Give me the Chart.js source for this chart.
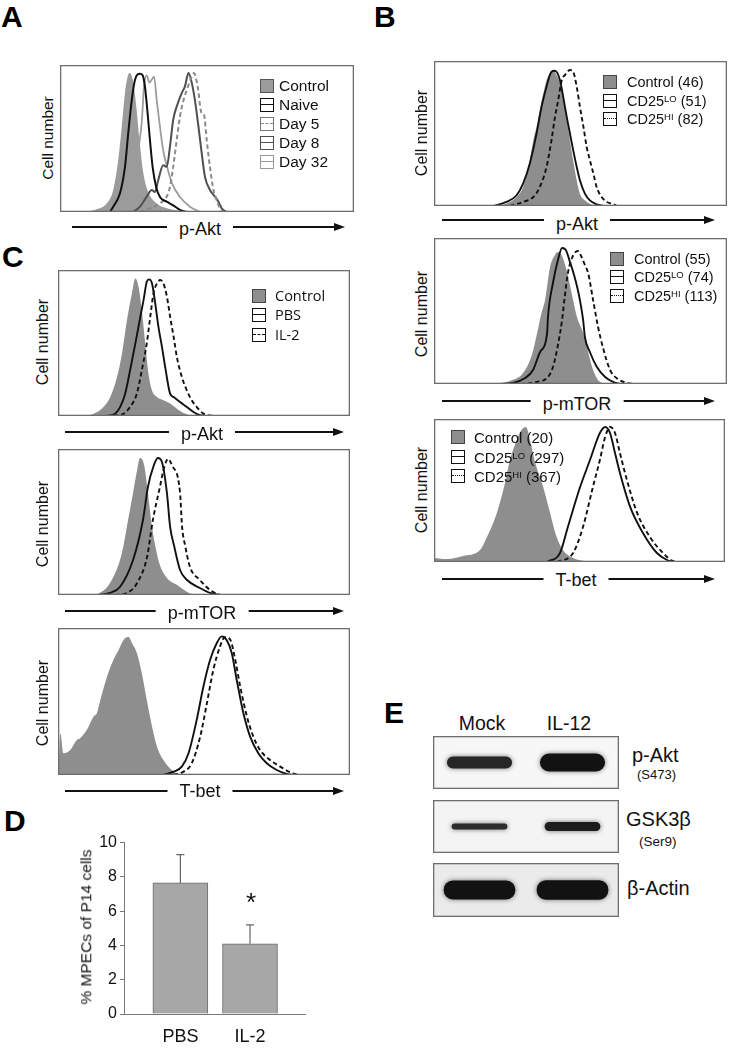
<!DOCTYPE html>
<html><head><meta charset="utf-8">
<script src="https://cdn.jsdelivr.net/npm/chart.js@4.4.1/dist/chart.umd.min.js"></script>
<style>
body{margin:0;background:#fff;font-family:"Liberation Sans",Arial,sans-serif;color:#111}
#root{position:relative;width:731px;height:1050px;overflow:hidden;background:#fff}
.t{position:absolute;white-space:nowrap;line-height:1;color:#111}
.letter{position:absolute;font-weight:bold;font-size:30px;line-height:1;white-space:nowrap;color:#000}
.ylab{position:absolute;transform:translate(-50%,-50%) rotate(-90deg);white-space:nowrap;font-size:16px;line-height:1;color:#111}
.sup{font-size:9.5px;vertical-align:4px}
</style></head>
<body><div id="root"></div>
<script>
// ---------------- DATA ----------------
// Panel A (p-Akt), x = position across plot (0-100), y = relative cell number (0-100)
const A_control = [[7.9,0],[12.5,1.8],[15.9,5.9],[18.1,15],[19.8,35],[21,58],[22.1,81],[23.6,94.5],[24.7,90.5],[25.9,72.7],[27,50],[28.3,27],[30,13.6],[32.3,6.8],[36.3,2.5],[43.1,0.5],[47.6,0]];
const A_naive = [[17,0],[18.1,3.6],[20.4,12.7],[22.1,30.7],[23.2,53.4],[24.4,76],[25.5,89.8],[27.2,94],[28.1,93],[28.9,85.2],[29.7,69.3],[30.6,48.9],[31.5,30.7],[32.7,17],[34,10.2],[36.3,7],[38.5,4.5],[40.8,1.4],[43.1,0]];
const A_day5 = [[27.2,0],[30.6,2.5],[34,5.9],[36.3,10.5],[37.4,17],[38.5,30.7],[39.7,48.9],[40.8,64.8],[42,76],[43.1,83],[44.8,92],[45.6,94.5],[46.3,90.5],[47.1,81.8],[47.6,72.7],[48.2,67],[49,66],[49.9,49],[51,30.7],[52.2,15],[53.3,8],[54.4,2.5],[55.6,0]];
const A_day8 = [[24.9,0],[27.2,3.6],[29.5,10.5],[31.2,15],[32.3,13.6],[33.4,21.6],[35.1,31.8],[36.3,30.7],[37.4,44.5],[38.5,62.7],[39.7,71.8],[41.4,80.9],[42.5,85.5],[43.7,94.5],[44.8,88],[45.9,76],[47.1,58],[48.2,40],[49.3,24],[51,15],[52.7,10.5],[53.9,7],[55,2.5],[56.7,0]];
const A_day32 = [[20.4,0],[23.8,4],[25.5,18],[26.6,41],[27.8,61],[28.6,86],[29.5,93],[30.4,88],[31.2,90],[32,92],[32.9,76],[34,58],[35.1,42],[36.3,31.8],[38,20],[40.8,10.2],[44.2,3.6],[47.6,0]];

// Panel B
const B1_control = [[19,0],[24.7,1.6],[28.2,6.2],[30.4,13.1],[32.7,31.6],[33.9,45.4],[35,54.6],[36.1,66.1],[37.3,77.6],[38.4,86.8],[39.6,91.5],[40.7,93.8],[41.8,90.3],[43,84.6],[44.1,75.1],[45.3,59],[46.4,45.2],[47.5,31.3],[48.7,17.7],[49.8,8.5],[51.5,3.9],[54.4,0.5],[56.7,0]];
const B1_lo = [[20.2,0],[24.7,2.8],[28.2,7.4],[30.4,15.4],[32.7,29.3],[35,50],[36.7,68.4],[38.4,82.3],[40.1,92.6],[41.3,93.3],[43,86.8],[44.1,75.3],[45.3,61.5],[46.4,50],[47.5,38.5],[48.7,27],[49.8,17.7],[51.5,8.5],[53.2,3.9],[55.5,1.2],[57.8,0]];
const B1_hi = [[25.9,0],[30.4,2.8],[33.9,6.2],[36.1,13.1],[38.4,26.9],[40.1,45.4],[41.3,61.5],[42.4,73],[43.6,86.8],[44.7,90.3],[46.4,93.8],[47.5,92.6],[48.7,82.3],[49.8,68.4],[51,54.6],[52.1,40.8],[53.2,31.6],[54.4,22.4],[55.5,13.1],[57.2,6.2],[59,2.8],[61.2,1.2],[62.4,0]];
const B2_control = [[20.8,0],[25.9,2.1],[30.4,7.5],[33.4,19.9],[35.2,34.9],[36.5,47.3],[37.9,57.5],[39.6,80.1],[41.3,88.4],[42.3,90.4],[43.7,87.7],[45.4,76.7],[47.1,61],[48.8,45.9],[50.9,34.9],[52.6,21.9],[54.3,9.6],[56.7,1.4],[60.1,0]];
const B2_lo = [[22.5,0],[27,0.7],[31.1,4.1],[33.8,9.6],[36.2,21.9],[38.6,34.9],[38.9,45.9],[40.6,69.2],[42.3,84.9],[43.7,93.2],[45,91.8],[46.4,83.6],[47.8,74.7],[49.1,64.4],[49.8,57.5],[50.9,43.8],[51.5,32.2],[53.2,21.9],[55.6,11.6],[58.4,4.8],[61.1,1.4],[63.5,0]];
const B2_hi = [[29.4,0],[35.2,1.4],[38.9,4.8],[40.6,11.6],[42.3,26.7],[43.7,43.8],[44.7,61],[45.7,76],[47.1,86.3],[49.1,91.1],[50.5,86.3],[51.5,81.5],[52.6,76],[54.3,57.5],[56,39],[57.7,24.7],[60.1,9.6],[62.8,3.4],[65.9,0.7],[68.6,0]];
const B3_control = [[0,2.8],[4.5,2.1],[10,4.2],[15.8,8.4],[18.2,17.5],[21.6,34.3],[24.4,55.2],[26.1,71.3],[27.8,81.8],[29.6,90.9],[31.6,94.4],[33,85.3],[34.7,69.9],[37.1,55.2],[39.9,34.3],[41.9,18.9],[44.3,8.4],[47.8,2.8],[53.6,0]];
const B3_lo = [[38.8,0],[43.3,6.3],[46,24.5],[50.2,52.4],[53.6,71.3],[56,85.3],[57,90.2],[58.8,94.4],[60.5,90.2],[62.2,76.2],[63.9,62.2],[67.4,38.5],[71.8,20.3],[76.6,6.3],[80.1,1.4],[82.1,0]];
const B3_hi = [[42.3,0],[47.8,6.3],[51.2,24.5],[54.6,52.4],[57,71.3],[58.8,87.4],[60.5,94.4],[62.2,90.2],[63.9,76.2],[66.3,57.3],[69.8,34.3],[74.2,17.5],[78.7,6.3],[82.1,0.7],[84.5,0]];

// Panel C
const C1_control = [[8.8,0],[12.2,1.6],[15.6,6.2],[17.9,13],[20.2,26.5],[21.9,42.6],[23.6,65.4],[25.3,83.7],[26.5,94.1],[27.6,88.3],[28.7,72.3],[29.9,49.4],[31,28.8],[32.2,17.4],[33.9,13],[36.1,10.8],[38.4,8.5],[40.7,5],[43,2.1],[46.4,0]];
const C1_pbs = [[16.8,0],[19.6,1.6],[21.3,6.2],[23,15.3],[24.7,31.4],[26.5,49.7],[28.2,68],[29.3,79.4],[30.4,92],[31.2,93.6],[32.2,90.8],[33.3,77.1],[34.4,61],[35.6,47.4],[36.7,33.6],[38.4,15.3],[39.6,13],[41.8,9.6],[44.1,6.2],[46.4,2.7],[48.7,0.5],[50.9,0]];
const C1_il2 = [[19,0],[22.5,1.6],[24.7,6.2],[27,15.3],[28.7,31.4],[30.4,49.7],[31.6,68],[32.7,84],[33.9,90.8],[35,93.1],[36.1,90.8],[37.3,81.7],[38.4,68],[39.6,54.2],[40.7,40.5],[42.4,26.8],[44.1,17.6],[45.8,10.8],[47.5,6.2],[49.8,1.6],[53.2,0]];
const C2_control = [[11,0],[13.4,0.7],[17.8,8.2],[21.9,28.8],[24,51.4],[25.7,69.9],[27.1,85.6],[28.1,93.8],[29.5,89],[30.8,69.9],[32.2,46.6],[33.6,30.8],[34.9,20.5],[37.3,11.6],[40.8,6.8],[44.2,2.1],[46.9,0]];
const C2_pbs = [[14.4,0],[17.8,1.4],[21.2,5.5],[25.7,24],[29.1,51.4],[30.8,74],[32.5,87],[34.2,93.8],[35.6,91.1],[37.3,69.9],[38.4,46.6],[39.7,34.2],[41.8,17.1],[44.2,10.3],[48.6,4.8],[52.1,1.4],[55.5,0]];
const C2_il2 = [[19.5,0],[23.6,1.4],[27.1,8.2],[30.5,26],[32.5,51.4],[34.9,74],[36.3,87],[37.7,93.2],[39,89],[41.8,69.9],[42.5,46.6],[43.5,34.2],[45.2,19.2],[48.6,10.3],[52.1,3.4],[55.5,0]];
const C3_control = [[0.2,0],[0.8,28.4],[1.9,14.8],[4.2,17],[6.5,23.9],[7.6,25],[9.9,30.7],[12.2,39.8],[13.3,42],[14.5,51.1],[16.8,67],[19,78.4],[20.8,85.2],[22.5,92],[24.2,93.8],[25.3,89.8],[27,83],[28.7,69.3],[30.4,51.1],[32.2,33],[33.9,19.3],[36.1,10.2],[38.4,4.5],[40.7,1.1],[44.1,0]];
const C3_pbs = [[36.1,0],[39.6,2.3],[42.4,5.7],[44.7,14.8],[47.5,37.5],[49.8,60.2],[52.1,78.4],[54.4,89.8],[56.1,94.3],[57.8,91.6],[59.5,83],[61.2,64.8],[63.5,42],[65.8,26.1],[68.6,14.8],[71.5,8],[74.9,3.4],[78.3,0.7],[80.6,0]];
const C3_il2 = [[39.6,0],[43,2.3],[45.8,8],[48.7,26.1],[51,48.9],[53.2,71.6],[55.5,87.5],[57.2,93.8],[59,92],[60.7,78.4],[62.4,60.2],[64.7,39.8],[66.9,26.1],[69.2,17],[72.6,10.2],[76.1,5.7],[79.5,1.8],[82.3,0]];

// Panel D
const dCategories = ['PBS', 'IL-2'];
const dMeans = [7.65, 4.1];
const dErrors = [1.65, 1.1];
const dTicks = [0, 2, 4, 6, 8, 10];

// Panel E (relative band signal)
const blotLanes = ['Mock', 'IL-12'];
const pAktSignal = [0.45, 0.68];
const gskSignal = [0.23, 0.34];
const actinSignal = [0.70, 0.72];

// ---------------- DRAWING ----------------
Chart.defaults.font.family = '"Liberation Sans", Arial, sans-serif';
Chart.defaults.color = '#111';
const root = document.getElementById('root');

function mkCanvas(left, top, w, h) {
  const c = document.createElement('canvas');
  c.width = w; c.height = h;
  c.style.cssText = `position:absolute;left:${left}px;top:${top}px;width:${w}px;height:${h}px`;
  root.appendChild(c);
  return c;
}
function text(x, baseline, html, fs, opts = {}) {
  const s = document.createElement('div');
  s.className = 't';
  s.innerHTML = html;
  s.style.fontSize = fs + 'px';
  s.style.top = (baseline - 0.8465 * fs) + 'px';
  s.style.left = x + 'px';
  if (opts.center) s.style.transform = 'translateX(-50%)';
  if (opts.family) s.style.fontFamily = opts.family;
  if (opts.bold) s.style.fontWeight = 'bold';
  if (opts.bg) { s.style.background = opts.bg; s.style.padding = '0 12px'; }
  root.appendChild(s);
  return s;
}
function ylab(cx, cy, str, fs) {
  const d = document.createElement('div');
  d.className = 'ylab';
  d.textContent = str;
  d.style.left = cx + 'px'; d.style.top = cy + 'px';
  if (fs) d.style.fontSize = fs + 'px';
  root.appendChild(d);
}
function letter(x, baseline, ch) {
  const d = document.createElement('div');
  d.className = 'letter';
  d.textContent = ch;
  d.style.left = x + 'px';
  d.style.top = (baseline - 0.8465 * 30) + 'px';
  root.appendChild(d);
}
function arrow(x1, x2, y, label, cx, baseline) {
  const ln = document.createElement('div');
  ln.style.cssText = `position:absolute;left:${x1}px;top:${y - 1.25}px;width:${x2 - x1 - 8}px;height:2.5px;background:#111`;
  root.appendChild(ln);
  const hd = document.createElement('div');
  hd.style.cssText = `position:absolute;left:${x2 - 11}px;top:${y - 4.5}px;width:0;height:0;border-left:11px solid #111;border-top:4.5px solid transparent;border-bottom:4.5px solid transparent`;
  root.appendChild(hd);
  text(cx, baseline, label, 18, { center: true, bg: '#fff' });
}
function legend(iconX, textX, rows, items, fs, family) {
  items.forEach((it, i) => {
    const cy = rows[i];
    const ic = document.createElement('div');
    ic.style.cssText = `position:absolute;left:${iconX}px;top:${cy - 7}px;width:14px;height:14px;box-sizing:border-box;border:1.6px solid ${it.border};background:${it.fill || '#fff'}`;
    if (!it.fill) {
      const mid = document.createElement('div');
      mid.style.cssText = `position:absolute;left:0;right:0;top:4.6px;height:0;border-top:1.8px ${it.dash || 'solid'} ${it.color}`;
      ic.appendChild(mid);
    }
    root.appendChild(ic);
    const t = document.createElement('div');
    t.className = 't';
    t.innerHTML = it.label;
    t.style.fontSize = fs + 'px';
    t.style.left = textX + 'px';
    t.style.top = (cy - 0.49 * fs) + 'px';
    if (family) t.style.fontFamily = family;
    root.appendChild(t);
  });
}

const frame = {
  id: 'frame',
  afterDraw(chart) {
    const { ctx, width, height } = chart;
    ctx.save();
    ctx.strokeStyle = '#6e6e6e';
    ctx.lineWidth = 1.3;
    ctx.strokeRect(0.65, 0.65, width - 1.3, height - 1.3);
    ctx.restore();
  }
};

function hist(left, top, w, h, sets) {
  const c = mkCanvas(left, top, w, h);
  new Chart(c, {
    type: 'line',
    data: {
      datasets: sets.map((s, i) => ({
        data: s.pts.map(p => ({ x: p[0], y: p[1] })),
        borderColor: s.color || '#000',
        borderWidth: s.fill ? 0 : (s.width || 1.9),
        borderDash: s.dash || [],
        backgroundColor: s.fill || 'transparent',
        fill: s.fill ? 'origin' : false,
        pointRadius: 0,
        cubicInterpolationMode: 'monotone',
        order: s.fill ? 50 : i
      }))
    },
    options: {
      responsive: false, animation: false, events: [],
      layout: { padding: 0 },
      plugins: { legend: { display: false }, tooltip: { enabled: false } },
      scales: {
        x: { type: 'linear', min: 0, max: 100, display: false },
        y: { type: 'linear', min: 0, max: 100, display: false }
      }
    },
    plugins: [frame]
  });
}

const GRAY = '#8e8e8e';
const DASH = [4.5, 3];

// ---- Panel A ----
letter(1, 27, 'A');
hist(60, 65, 294, 147, [
  { pts: A_naive, color: '#111', width: 2 },
  { pts: A_day5, color: '#8a8a8a', width: 2, dash: DASH },
  { pts: A_day8, color: '#4f4f4f', width: 2 },
  { pts: A_day32, color: '#9c9c9c', width: 1.8 },
  { pts: A_control, fill: '#9b9b9b' }
]);
ylab(48, 138, 'Cell number', 15.5);
arrow(72, 345, 227, 'p-Akt', 200, 235);
legend(260, 279, [86, 105, 124, 143, 162], [
  { label: 'Control', fill: '#9b9b9b', border: '#555' },
  { label: 'Naive', border: '#111', color: '#111' },
  { label: 'Day 5', border: '#777', color: '#888', dash: 'dashed' },
  { label: 'Day 8', border: '#4f4f4f', color: '#4f4f4f' },
  { label: 'Day 32', border: '#999', color: '#999' }
], 15.5);

// ---- Panel B ----
letter(374, 27, 'B');
hist(434, 61, 293, 145, [
  { pts: B1_lo, color: '#111' },
  { pts: B1_hi, color: '#111', dash: DASH },
  { pts: B1_control, fill: GRAY }
]);
ylab(422, 133, 'Cell number');
arrow(442, 715, 220, 'p-Akt', 577, 230);
legend(603, 627, [82, 101, 119], [
  { label: 'Control (46)', fill: GRAY, border: '#444' },
  { label: 'CD25<span class="sup">LO</span> (51)', border: '#111', color: '#111' },
  { label: 'CD25<span class="sup">HI</span> (82)', border: '#111', color: '#111', dash: 'dotted' }
], 14.5);

hist(434, 238, 293, 146, [
  { pts: B2_lo, color: '#111' },
  { pts: B2_hi, color: '#111', dash: DASH },
  { pts: B2_control, fill: GRAY }
]);
ylab(422, 314, 'Cell number');
arrow(442, 715, 401, 'p-mTOR', 577, 410);
legend(610, 634, [259, 277, 296], [
  { label: 'Control (55)', fill: GRAY, border: '#444' },
  { label: 'CD25<span class="sup">LO</span> (74)', border: '#111', color: '#111' },
  { label: 'CD25<span class="sup">HI</span> (113)', border: '#111', color: '#111', dash: 'dotted' }
], 14.5);

hist(434, 419, 291, 143, [
  { pts: B3_lo, color: '#111' },
  { pts: B3_hi, color: '#111', dash: DASH },
  { pts: B3_control, fill: GRAY }
]);
ylab(422, 490, 'Cell number');
arrow(442, 715, 579, 'T-bet', 576, 586);
legend(451, 474, [437, 457, 476], [
  { label: 'Control (20)', fill: GRAY, border: '#444' },
  { label: 'CD25<span class="sup">LO</span> (297)', border: '#111', color: '#111' },
  { label: 'CD25<span class="sup">HI</span> (367)', border: '#111', color: '#111', dash: 'dotted' }
], 15);

// ---- Panel C ----
letter(2, 267, 'C');
hist(58, 270, 292, 146, [
  { pts: C1_pbs, color: '#111' },
  { pts: C1_il2, color: '#111', dash: DASH },
  { pts: C1_control, fill: GRAY }
]);
ylab(43, 342, 'Cell number');
arrow(65, 344, 432, 'p-Akt', 202, 440);
legend(252, 275, [296, 315, 335], [
  { label: 'Control', fill: GRAY, border: '#444' },
  { label: 'PBS', border: '#111', color: '#111' },
  { label: 'IL-2', border: '#111', color: '#111', dash: 'dashed' }
], 14.5, '"Open Sans", sans-serif');

hist(58, 449, 292, 146, [
  { pts: C2_pbs, color: '#111' },
  { pts: C2_il2, color: '#111', dash: DASH },
  { pts: C2_control, fill: GRAY }
]);
ylab(43, 524, 'Cell number');
arrow(65, 344, 611, 'p-mTOR', 202, 619);
hist(58, 628, 292, 147, [
  { pts: C3_pbs, color: '#111' },
  { pts: C3_il2, color: '#111', dash: DASH },
  { pts: C3_control, fill: GRAY }
]);
ylab(43, 703, 'Cell number');
arrow(65, 344, 791, 'T-bet', 200, 797);

// ---- Panel D ----
letter(4, 831, 'D');
(function () {
  const c = mkCanvas(60, 830, 260, 215);
  const errPlugin = {
    id: 'err',
    afterDatasetsDraw(chart) {
      const { ctx, scales: { x, y } } = chart;
      ctx.save();
      ctx.strokeStyle = '#666';
      ctx.lineWidth = 1.2;
      dMeans.forEach((m, i) => {
        const px = x.getPixelForValue(i + 1);
        const y1 = y.getPixelForValue(m);
        const y2 = y.getPixelForValue(m + dErrors[i]);
        ctx.beginPath();
        ctx.moveTo(px, y1); ctx.lineTo(px, y2);
        ctx.moveTo(px - 4, y2); ctx.lineTo(px + 4, y2);
        ctx.stroke();
      });
      ctx.restore();
    }
  };
  new Chart(c, {
    type: 'bar',
    data: {
      datasets: [{
        data: dMeans.map((v, i) => ({ x: i + 1, y: v })),
        backgroundColor: '#a7a7a7',
        borderColor: '#6a6a6a',
        borderWidth: 1,
        barThickness: 55
      }]
    },
    options: {
      responsive: false, animation: false, events: [],
      layout: { padding: { top: 11, right: 15, left: 0, bottom: 0 } },
      plugins: { legend: { display: false }, tooltip: { enabled: false } },
      scales: {
        x: {
          type: 'linear', min: 0.19, max: 2.79, offset: false, bounds: 'data',
          afterBuildTicks(s) { s.ticks = dCategories.map((_, i) => ({ value: i + 1 })); },
          afterFit(s) { s.height = 31; },
          ticks: { callback: v => dCategories[v - 1], font: { size: 18 }, color: '#111', padding: 12, autoSkip: false, maxRotation: 0 },
          grid: { display: true, drawOnChartArea: false, drawTicks: false, offset: false, color: '#777' },
          border: { display: true, color: '#777', width: 1 }
        },
        y: {
          min: 0, max: 10,
          afterBuildTicks(s) { s.ticks = dTicks.map(v => ({ value: v })); },
          afterFit(s) { s.width = 64; },
          ticks: { font: { size: 16 }, color: '#111', padding: 3 },
          grid: { display: true, drawOnChartArea: false, drawTicks: true, tickLength: 4, color: '#777' },
          border: { display: true, color: '#777', width: 1 }
        }
      }
    },
    plugins: [errPlugin]
  });
})();
ylab(86, 927, '% MPECs of P14 cells', 15.5);
text(251, 911, '*', 26, { center: true });

// ---- Panel E ----
letter(384, 723, 'E');
function blot(left, top, w, h, signal, pct, colors, bg) {
  const c = mkCanvas(left, top, w, h);
  const bgPlugin = {
    id: 'bg',
    beforeDraw(chart) {
      const { ctx, width, height } = chart;
      ctx.save(); ctx.fillStyle = bg; ctx.fillRect(0, 0, width, height); ctx.restore();
    },
    beforeDatasetsDraw(chart) {
      const ctx = chart.ctx;
      ctx.save(); ctx.shadowColor = 'rgba(0,0,0,0.55)'; ctx.shadowBlur = 5;
    },
    afterDatasetsDraw(chart) { chart.ctx.restore(); }
  };
  new Chart(c, {
    type: 'bar',
    data: {
      labels: blotLanes,
      datasets: [{
        data: signal.map(v => [-v / 2, v / 2]),
        backgroundColor: colors,
        borderSkipped: false,
        borderRadius: 9,
        barPercentage: pct,
        categoryPercentage: 1
      }]
    },
    options: {
      responsive: false, animation: false, events: [],
      layout: { padding: 0 },
      plugins: { legend: { display: false }, tooltip: { enabled: false } },
      scales: {
        x: { display: false, offset: true },
        y: { display: false, min: -1, max: 1 }
      }
    },
    plugins: [bgPlugin, frame]
  });
}
blot(433, 736, 186, 53, pAktSignal, 0.70, ['#262626', '#121212'], '#f7f7f7');
blot(433, 800, 186, 53, gskSignal, 0.60, ['#2c2c2c', '#1c1c1c'], '#f4f4f4');
blot(433, 863, 186, 54, actinSignal, 0.77, ['#121212', '#121212'], '#ebebeb');
text(482, 731, 'Mock', 19.5, { center: true });
text(569, 731, 'IL-12', 19.5, { center: true });
text(632, 761.5, 'p-Akt', 20);
text(637, 779, '(S473)', 13);
text(626, 826, 'GSK3β', 20);
text(639, 846.5, '(Ser9)', 13.5);
text(627, 895, 'β-Actin', 20);
</script>
</body></html>
